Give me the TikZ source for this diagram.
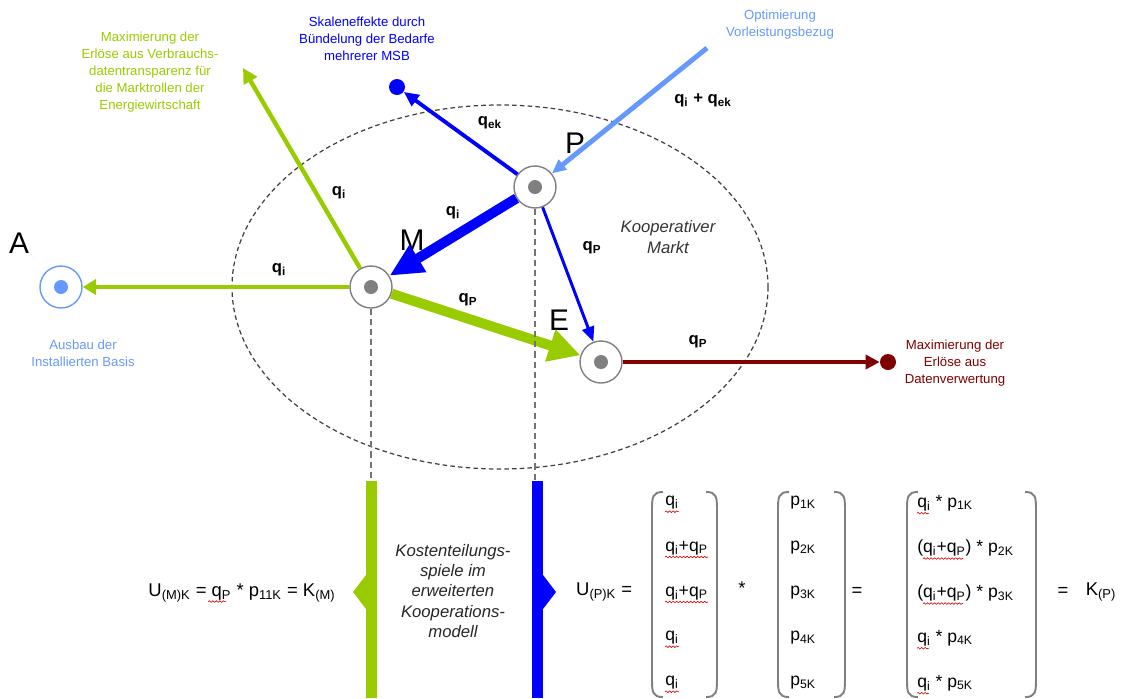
\documentclass[tikz,border=0pt]{standalone}
\usepackage{fontspec}
\setmainfont{Liberation Sans}
\usetikzlibrary{arrows.meta,decorations.pathmorphing}
\definecolor{mgreen}{HTML}{99CC00}
\definecolor{mblue}{HTML}{0000FF}
\definecolor{lblue}{HTML}{6699FF}
\definecolor{dred}{HTML}{800000}
\definecolor{kgray}{HTML}{808080}
\newcommand\sub[1]{\textsubscript{#1}}

\begin{document}
\begin{tikzpicture}[x=0.02cm,y=-0.02cm,
  knot/.style={circle,draw=kgray,line width=0.8pt,fill=white,minimum size=0.84cm,inner sep=0pt},
  lab/.style={align=center,font=\fontsize{7.5}{9.6}\selectfont},
  big/.style={font=\fontsize{17}{20}\selectfont},
  qlab/.style={font=\bfseries\fontsize{9.5}{11}\selectfont},
  ital/.style={align=center,font=\itshape\fontsize{9.5}{11.6}\selectfont},
  frm/.style={font=\fontsize{10.5}{12}\selectfont},
  mtx/.style={anchor=west,inner sep=0pt,font=\fontsize{10}{12}\selectfont},
  paren/.style={draw=kgray,line width=1.1pt},
  spell/.style={draw=red!85!black,line width=0.35pt,decorate,decoration={snake,amplitude=0.45pt,segment length=2pt}},
  vdash/.style={draw=kgray!90!black,line width=0.6pt,dash pattern=on 3.5pt off 2.3pt},
  edash/.style={draw=black!75,line width=0.7pt,dash pattern=on 2.6pt off 1.8pt}]
  \useasboundingbox (0,0) rectangle (1123,698);

  % kooperativer Markt
  \draw[edash] (500,287) ellipse [x radius=268, y radius=182];

  % Knoten
  \node[knot,draw=lblue] (A) at (61,287) {};
  \node[knot] (M) at (371,287) {};
  \node[knot] (P) at (535,187) {};
  \node[knot] (E) at (601,362) {};
  \fill[lblue] (A.center) circle[radius=7];
  \foreach \k in {M,P,E} \fill[kgray] (\k.center) circle[radius=7];
  \node[circle,fill=mblue,minimum size=0.32cm,inner sep=0pt] (S) at (397,87) {};
  \node[circle,fill=dred,minimum size=0.32cm,inner sep=0pt] (R) at (888,362) {};
  \coordinate (VT) at (243,68);
  \coordinate (OV) at (707,48);

  \node[big] (lA) at (19,243) {A};
  \node[big] (lM) at (412,240) {M};
  \node[big] (lP) at (575,143) {P};
  \node[big] (lE) at (559,320) {E};

  % Pfeile
  \draw[mgreen,line width=2.5pt,-{Triangle[length=7.5pt,width=8.5pt]}] (M) -- (A);
  \draw[mgreen,line width=2.5pt,-{Triangle[length=8.5pt,width=8.5pt]}] (M) -- (VT);
  \draw[mgreen,line width=5.7pt,-{Triangle[length=18pt,width=18pt]}] (M) -- (E);
  \draw[mblue,line width=5.7pt,-{Triangle[length=19pt,width=17pt]}] (P) -- (M);
  \draw[mblue,line width=2.2pt,-{Triangle[length=8.5pt,width=7.5pt]}] (P) -- (S);
  \draw[mblue,line width=1.7pt,-{Triangle[length=8.5pt,width=7pt]}] (P) -- (E);
  \draw[lblue,line width=2.8pt,-{Triangle[length=8pt,width=7pt]}] (OV) -- (P);
  \draw[dred,line width=2.8pt,-{Triangle[length=8pt,width=8pt]}] (E) -- (R);

  % Mengen
  \node[qlab] (q1) at (339,193) {q\sub{i}};
  \node[qlab] (q2) at (490,123) {q\sub{ek}};
  \node[qlab] (q3) at (453,213) {q\sub{i}};
  \node[qlab] (q4) at (703,100) {q\sub{i} + q\sub{ek}};
  \node[qlab] (q5) at (592,248) {q\sub{P}};
  \node[qlab] (q6) at (468,300) {q\sub{P}};
  \node[qlab] (q7) at (698,342) {q\sub{P}};
  \node[qlab] (q8) at (279,270) {q\sub{i}};

  % Beschriftungen
  \node[lab,text=mgreen] (tV) at (150,72) {Maximierung der\\Erlöse aus Verbrauchs-\\datentransparenz für\\die Marktrollen der\\Energiewirtschaft};
  \node[lab,text=mblue] (tS) at (367,39) {Skaleneffekte durch\\Bündelung der Bedarfe\\mehrerer MSB};
  \node[lab,text=lblue] (tO) at (780,25) {Optimierung\\Vorleistungsbezug};
  \node[lab,text=lblue] (tA) at (83,353) {Ausbau der\\Installierten Basis};
  \node[lab,text=dred] (tR) at (955,363) {Maximierung der\\Erlöse aus\\Datenverwertung};
  \node[ital,text=black!80] (tK) at (668,237) {Kooperativer\\Markt};

  % Kostenteilung
  \draw[vdash] (M.south) -- (371,481);
  \draw[vdash] (P.south) -- (535,481);
  \fill[mgreen] (366,481) rectangle (377,698);
  \fill[mgreen] (366,575) -- (353,592) -- (366,609) -- cycle;
  \fill[mblue] (532,481) rectangle (543,698);
  \fill[mblue] (543,575) -- (556,592) -- (543,609) -- cycle;
  \node[ital,text=black!85] (tKs) at (453,591) {Kostenteilungs-\\spiele im\\erweiterten\\Kooperations-\\modell};

  \node[frm] (UM) at (242,593) {U\sub{(M)K} = q\sub{P} * p\sub{11K} = K\sub{(M)}};
  \draw[spell] (UM.base west) ++(66,5) -- ++(18,0);
  \node[frm,anchor=west] (UP) at (570,592) {U\sub{(P)K} =};

  \foreach \l/\r in {652/717,778/845,907/1036} {
    \draw[paren] (\l+11,492) .. controls (\l,492) and (\l,497) .. (\l,512) -- (\l,677) .. controls (\l,692) and (\l,697) .. (\l+11,697);
    \draw[paren] (\r-11,492) .. controls (\r,492) and (\r,497) .. (\r,512) -- (\r,677) .. controls (\r,692) and (\r,697) .. (\r-11,697);
  }
  \foreach \t [count=\i] in {{q\sub{i}},{q\sub{i}+q\sub{P}},{q\sub{i}+q\sub{P}},{q\sub{i}},{q\sub{i}}}
    \node[mtx] (a\i) at (665,503+45*\i-45) {\t};
  \foreach \i in {1,...,5}
    \node[mtx] (b\i) at (790,503+45*\i-45) {p\sub{\i K}};
  \foreach \t [count=\i] in {{q\sub{i} * p\sub{1K}},{(q\sub{i}+q\sub{P}) * p\sub{2K}},{(q\sub{i}+q\sub{P}) * p\sub{3K}},{q\sub{i} * p\sub{4K}},{q\sub{i} * p\sub{5K}}}
    \node[mtx] (c\i) at (917,503+45*\i-45) {\t};
  % Rechtschreibmarken
  \foreach \i in {1,...,5} \draw[spell] ([yshift=-1pt]a\i.south west) -- ([yshift=-1pt]a\i.south east);
  \foreach \i/\w in {1/12,4/12,5/12} \draw[spell] (c\i.south west) ++(0,2) -- ++(\w,0);
  \foreach \i in {2,3} \draw[spell] (c\i.south west) ++(6,2) -- ++(40,0);
  \node[frm] (st) at (742,588) {*};
  \node[frm] (eq1) at (857,592) {=};
  \node[frm] (eq2) at (1063,592) {=};
  \node[frm] (KP) at (1101,592) {K\sub{(P)}};
\end{tikzpicture}
\end{document}
